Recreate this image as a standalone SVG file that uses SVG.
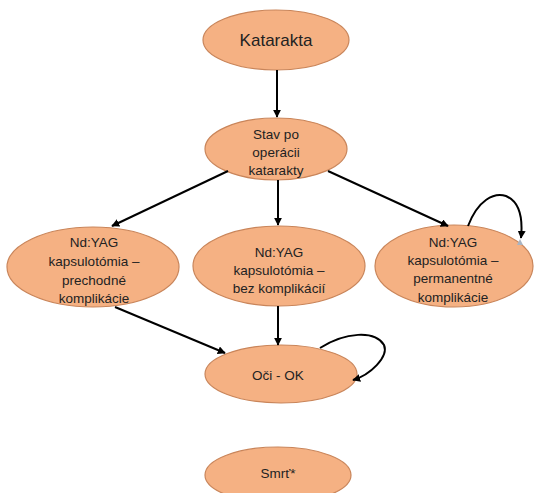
<svg xmlns="http://www.w3.org/2000/svg" width="534" height="493" viewBox="0 0 534 493">
<style>
.n{fill:#F5B183;stroke:#C9855A;stroke-width:1.2}
.t{font-family:"Liberation Sans",Arial,sans-serif;font-size:13.5px;fill:#222;text-anchor:middle}
.e{fill:none;stroke:#000;stroke-width:2;marker-end:url(#ah)}
</style>
<defs>
<marker id="ah" viewBox="0 0 10 10" refX="9" refY="5" markerWidth="4" markerHeight="4" orient="auto" markerUnits="strokeWidth">
<path d="M0,0 L10,5 L0,10 z" fill="#000"/>
</marker>
</defs>
<rect width="534" height="493" fill="#fff"/>
<g id="katarakta">
<ellipse class="n" cx="276" cy="40" rx="73" ry="30"/>
<text class="t" x="276" y="46" style="font-size:17px">Katarakta</text>
</g>
<g id="stav">
<ellipse class="n" cx="276" cy="149" rx="71" ry="31"/>
<text class="t" x="276" y="139">Stav po</text>
<text class="t" x="276" y="157">operácii</text>
<text class="t" x="276" y="175">katarakty</text>
</g>
<g id="prechodne">
<ellipse class="n" cx="93" cy="267" rx="86" ry="40"/>
<text class="t" x="94" y="247">Nd:YAG</text>
<text class="t" x="94" y="266">kapsulotómia –</text>
<text class="t" x="94" y="285">prechodné</text>
<text class="t" x="94" y="303">komplikácie</text>
</g>
<g id="bez">
<ellipse class="n" cx="279" cy="266" rx="86" ry="40"/>
<text class="t" x="279" y="257">Nd:YAG</text>
<text class="t" x="279" y="275">kapsulotómia –</text>
<text class="t" x="279" y="293">bez komplikácií</text>
</g>
<g id="permanentne">
<ellipse class="n" cx="454" cy="266" rx="79" ry="41"/>
<text class="t" x="453" y="247">Nd:YAG</text>
<text class="t" x="453" y="265">kapsulotómia –</text>
<text class="t" x="453" y="283">permanentné</text>
<text class="t" x="453" y="302">komplikácie</text>
</g>
<g id="oci">
<ellipse class="n" cx="281" cy="374" rx="76" ry="29"/>
<text class="t" x="278" y="380">Oči - OK</text>
</g>
<g id="smrt">
<ellipse class="n" cx="278" cy="475" rx="73" ry="28"/>
<text class="t" x="278" y="478">Smrť*</text>
</g>
<path d="M517,245 L523,245 L520,239 z" fill="#A9B4C2"/>
<g id="connectors">
<line class="e" x1="277" y1="70" x2="277" y2="117"/>
<line class="e" x1="228" y1="171" x2="112" y2="226"/>
<line class="e" x1="278" y1="180" x2="278" y2="225"/>
<line class="e" x1="328" y1="171" x2="448" y2="226"/>
<path class="e" d="M468,226 C478,200 494,192 506,196 C520,202 523,218 521,238"/>
<line class="e" x1="115" y1="307" x2="225" y2="353"/>
<line class="e" x1="278" y1="306" x2="278" y2="345"/>
<path class="e" d="M320,348 C345,332 375,330 384,345 C389,357 370,375 353,380"/>
</g>
</svg>
